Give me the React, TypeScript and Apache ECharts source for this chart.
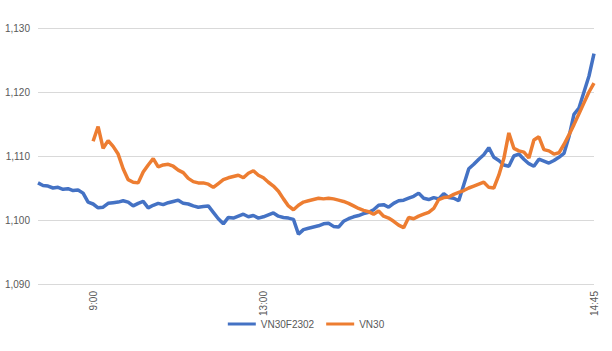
import React, { useEffect, useRef } from "react";
import * as echarts from "echarts";

// Category slots along the session (evenly spaced ticks of the chart's x axis)
const SLOT_COUNT = 112;
const slots: string[] = Array.from({ length: SLOT_COUNT }, (_, i) => String(i));

// Tick labels shown on the x axis and the slot they belong to
const xTickLabels = ["9:00", "13:00", "14:45"];
const xTickSlots = [11, 45, 111];

const yMin = 1090;
const yMax = 1130;
const yStep = 10;

const vn30f2302: number[] = [
  1105.8, 1105.4, 1105.3, 1105.0, 1105.1, 1104.8, 1104.9, 1104.6, 1104.7, 1104.2,
  1102.8, 1102.5, 1101.9, 1102.0, 1102.6, 1102.7, 1102.8, 1103.0, 1102.8, 1102.2,
  1102.6, 1102.9, 1101.9, 1102.3, 1102.6, 1102.4, 1102.7, 1102.9, 1103.1, 1102.6,
  1102.5, 1102.2, 1102.0, 1102.1, 1102.2, 1101.2, 1100.2, 1099.4, 1100.4, 1100.3,
  1100.6, 1100.9, 1100.5, 1100.7, 1100.3, 1100.5, 1100.8, 1101.1, 1100.6, 1100.4,
  1100.3, 1100.1, 1097.8, 1098.5, 1098.7, 1098.9, 1099.1, 1099.4, 1099.5, 1099.0,
  1098.9, 1099.8, 1100.2, 1100.5, 1100.7, 1101.0, 1101.2, 1101.6, 1102.3, 1102.4,
  1102.0, 1102.6, 1103.0, 1103.1, 1103.4, 1103.7, 1104.2, 1103.4, 1103.2, 1103.5,
  1103.3, 1104.1, 1103.5, 1103.4, 1103.0, 1105.5, 1108.0, 1108.7, 1109.5, 1110.2,
  1111.3, 1109.8, 1109.3, 1108.6, 1108.4, 1110.0, 1110.3, 1109.5, 1108.8, 1108.4,
  1109.5, 1109.2, 1108.9, 1109.3, 1109.8, 1110.4, 1113.0, 1116.5, 1117.5, 1120.0,
  1122.5, 1126.0,
];

const vn30: (number | null)[] = [
  null, null, null, null, null, null, null, null, null, null,
  null, 1112.3, 1114.6, 1111.2, 1112.4, 1111.5, 1110.3, 1108.0, 1106.3, 1105.9,
  1105.8, 1107.5, 1108.6, 1109.6, 1108.3, 1108.6, 1108.7, 1108.4, 1107.8, 1107.4,
  1106.5, 1106.0, 1105.8, 1105.8, 1105.6, 1105.1, 1105.7, 1106.3, 1106.6, 1106.8,
  1107.0, 1106.6, 1107.3, 1107.7, 1107.0, 1106.6, 1105.9, 1105.3, 1104.5, 1103.3,
  1102.2, 1101.6, 1102.3, 1102.8, 1103.0, 1103.2, 1103.4, 1103.3, 1103.4, 1103.3,
  1103.1, 1102.9, 1102.6, 1102.2, 1101.8, 1101.5, 1101.3, 1100.9, 1101.4, 1100.6,
  1100.3, 1099.8, 1099.2, 1098.8, 1100.4, 1100.2, 1100.6, 1100.9, 1101.2, 1101.8,
  1103.2, 1103.5, 1103.6, 1104.0, 1104.3, 1104.6, 1105.0, 1105.3, 1105.6, 1105.9,
  1105.1, 1105.0, 1107.0, 1109.6, 1113.6, 1111.2, 1110.8, 1110.6, 1109.7, 1112.5,
  1113.0, 1111.0, 1110.8, 1110.3, 1110.5, 1111.8, 1113.3, 1114.9, 1116.6, 1118.3,
  1120.0, 1121.4,
];

const BLUE = "#4472C4";
const ORANGE = "#ED7D31";
const TEXT = "#595959";
const FONT = "'Liberation Sans', Arial, sans-serif";

export default function App() {
  const ref = useRef<HTMLDivElement>(null);

  useEffect(() => {
    if (!ref.current) return;
    const chart = echarts.init(ref.current, undefined, { renderer: "svg" });
    chart.setOption({
      animation: false,
      backgroundColor: "#ffffff",
      grid: { left: 38, right: 18, top: 28, bottom: 67, containLabel: false },
      legend: {
        bottom: 17,
        left: "center",
        itemWidth: 28,
        itemHeight: 3,
        itemGap: 12,
        icon: "rect",
        textStyle: { color: TEXT, fontSize: 10, fontFamily: FONT },
        data: ["VN30F2302", "VN30"],
      },
      xAxis: {
        type: "category",
        data: slots,
        boundaryGap: false,
        axisLine: { show: false },
        axisTick: { show: false },
        splitLine: { show: false },
        axisLabel: {
          rotate: 90,
          margin: 7,
          color: TEXT,
          fontSize: 10,
          fontFamily: FONT,
          interval: (index: number) => xTickSlots.indexOf(index) >= 0,
          formatter: (_v: string, index: number) => {
            const k = xTickSlots.indexOf(index);
            return k >= 0 ? xTickLabels[k] : "";
          },
        },
      },
      yAxis: {
        type: "value",
        min: yMin,
        max: yMax,
        interval: yStep,
        axisLine: { show: false },
        axisTick: { show: false },
        splitLine: { lineStyle: { color: "#D9D9D9", width: 1 } },
        axisLabel: {
          color: TEXT,
          fontSize: 10,
          fontFamily: FONT,
          margin: 8,
          formatter: (v: number) => v.toLocaleString("en-US"),
        },
      },
      series: [
        {
          name: "VN30F2302",
          type: "line",
          data: vn30f2302,
          showSymbol: false,
          symbol: "none",
          lineStyle: { color: BLUE, width: 3.5 },
          itemStyle: { color: BLUE },
        },
        {
          name: "VN30",
          type: "line",
          data: vn30,
          showSymbol: false,
          symbol: "none",
          connectNulls: false,
          lineStyle: { color: ORANGE, width: 3.5 },
          itemStyle: { color: ORANGE },
        },
      ],
    });
    return () => chart.dispose();
  }, []);

  return <div ref={ref} style={{ width: 612, height: 351, position: "absolute", left: 0, top: 0 }} />;
}
